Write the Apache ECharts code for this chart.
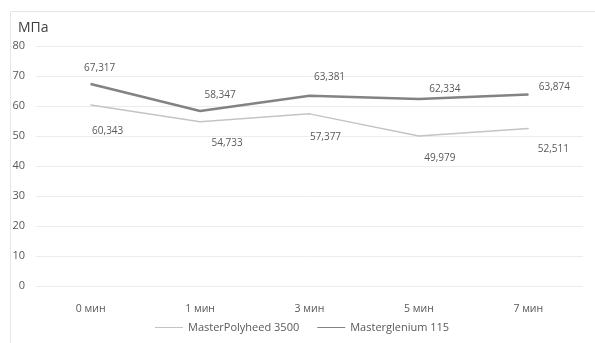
<!DOCTYPE html>
<html>
<head>
<meta charset="utf-8">
<script src="https://cdn.jsdelivr.net/npm/echarts@6/dist/echarts.min.js"></script>
<style>
html,body{margin:0;padding:0;background:#fff;}
#chart{width:595px;height:343px;}
</style>
</head>
<body>
<div id="chart"></div>
<script>
// Compressive strength over mixing time for two admixtures
const categories = ['0 мин', '1 мин', '3 мин', '5 мин', '7 мин'];
const polyheed = [60.343, 54.733, 57.377, 49.979, 52.511];
const glenium = [67.317, 58.347, 63.381, 62.334, 63.874];
const seriesNames = ['MasterPolyheed 3500', 'Masterglenium 115'];
const yTicks = [0, 10, 20, 30, 40, 50, 60, 70, 80];

// label nudges per point [dx, dy]
const polyheedLabelShift = [[17, 26], [27, 21], [16, 23], [21, 22], [25, 21]];
const gleniumLabelShift = [[9, -16], [20, -16], [20, -19], [26, -10], [26, -7]];

const fmt = v => v.toFixed(3).replace('.', ',');
const font = '"Open Sans", Lato, sans-serif';

function buildData(values, shifts) {
  return values.map((v, i) => ({
    value: v,
    label: { offset: shifts[i] }
  }));
}

const chart = echarts.init(document.getElementById('chart'));
chart.setOption({
  animation: false,
  textStyle: { fontFamily: font },
  graphic: [{
    type: 'rect',
    shape: { x: 10.5, y: 11.5, width: 600, height: 400 },
    style: { fill: 'none', stroke: '#e6e6e6', lineWidth: 1 },
    silent: true
  }, {
    type: 'text',
    left: 18, top: 21,
    style: { text: 'МПа', fontSize: 14, fill: '#404040', fontFamily: font }
  }],
  grid: { left: 36, right: 12, top: 46, bottom: 57 },
  legend: {
    bottom: 5,
    left: 150,
    itemWidth: 28,
    itemHeight: 10,
    itemGap: 18,
    icon: 'path://M0,4.5 L28,4.5 L28,5.5 L0,5.5 Z',
    textStyle: { fontSize: 11, color: '#595959', fontFamily: font },
    data: seriesNames
  },
  xAxis: {
    type: 'category',
    data: categories,
    boundaryGap: true,
    axisLine: { show: false },
    axisTick: { show: false },
    axisLabel: { fontSize: 10.5, color: '#595959', margin: 18 }
  },
  yAxis: {
    type: 'value',
    min: yTicks[0],
    max: yTicks[yTicks.length - 1],
    interval: 10,
    axisLine: { show: false },
    axisTick: { show: false },
    axisLabel: { fontSize: 11, color: '#595959', margin: 11 },
    splitLine: { lineStyle: { color: '#ececec', width: 1 } }
  },
  series: [{
    name: seriesNames[0],
    type: 'line',
    data: buildData(polyheed, polyheedLabelShift),
    symbol: 'circle',
    symbolSize: 1,
    showSymbol: true,
    lineStyle: { color: '#c4c4c4', width: 1.5 },
    itemStyle: { color: '#c4c4c4' },
    label: {
      show: true, position: 'inside',
      formatter: p => fmt(p.value),
      fontSize: 10, color: '#595959', fontFamily: font
    }
  }, {
    name: seriesNames[1],
    type: 'line',
    data: buildData(glenium, gleniumLabelShift),
    symbol: 'circle',
    symbolSize: 1,
    showSymbol: true,
    lineStyle: { color: '#838383', width: 2.5 },
    itemStyle: { color: '#838383' },
    label: {
      show: true, position: 'inside',
      formatter: p => fmt(p.value),
      fontSize: 10, color: '#595959', fontFamily: font
    }
  }]
});
</script>
</body>
</html>
